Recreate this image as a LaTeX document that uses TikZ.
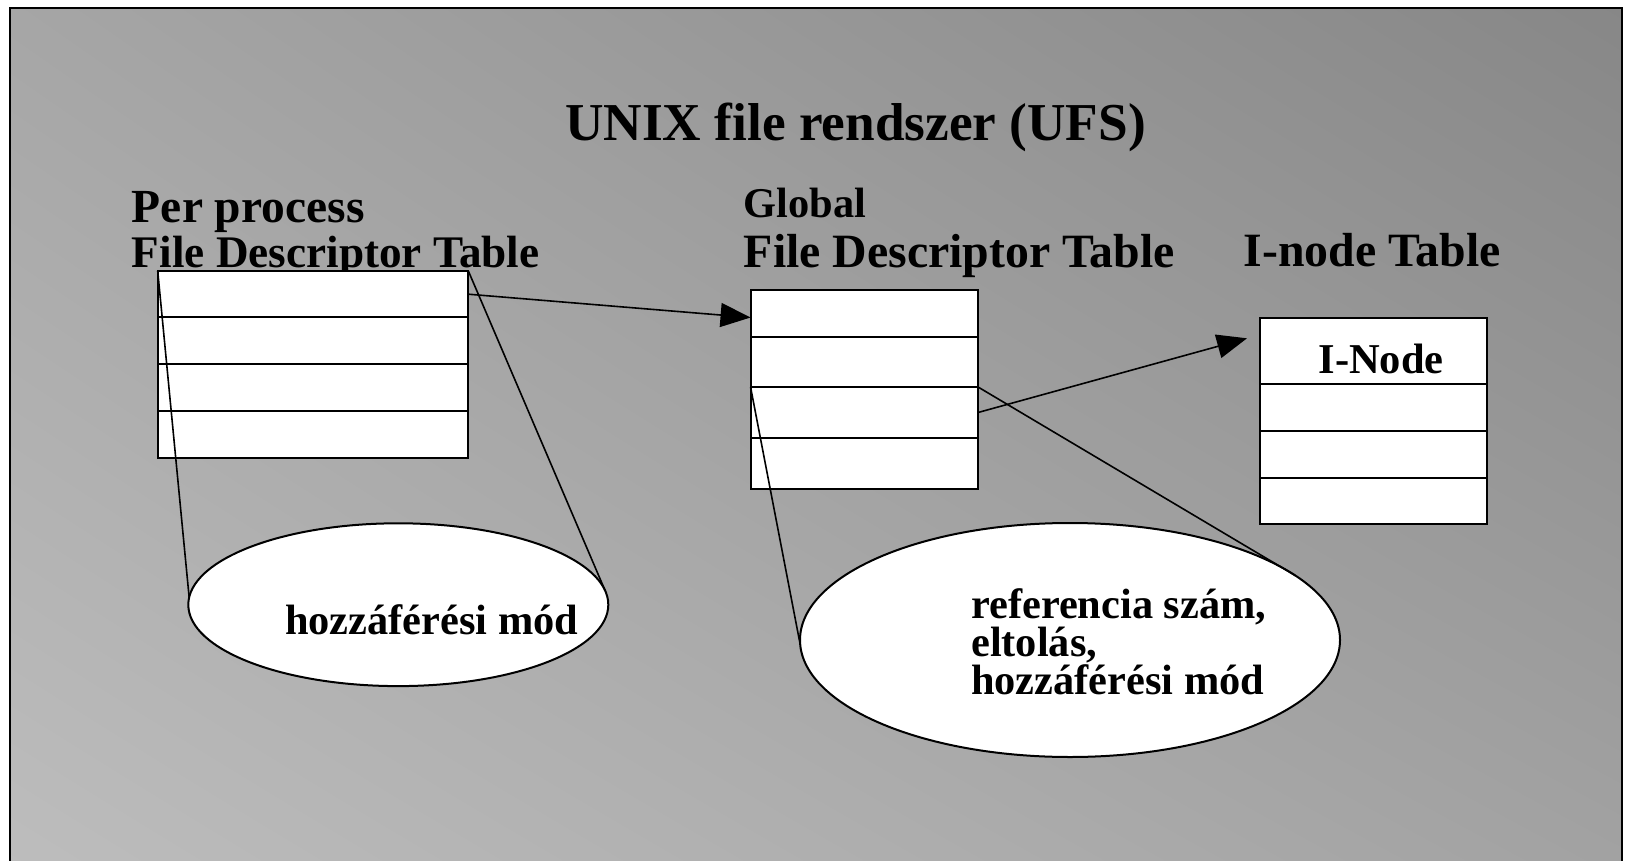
\documentclass[tikz,border=0pt]{standalone}
\usepackage{fontspec}
\setmainfont{Liberation Serif}
\usetikzlibrary{shapes.geometric,arrows.meta,shadings}

\definecolor{bgtl}{gray}{0.65}
\definecolor{bgtr}{gray}{0.53}
\definecolor{bgbl}{gray}{0.74}
\definecolor{bgbr}{gray}{0.635}
\newcommand{\bsz}[1]{\fontsize{#1}{#1}\selectfont\bfseries}

\begin{document}
\begin{tikzpicture}[x=1pt, y=-1pt,
	slot/.style={draw, fill=white, line width=2pt, inner sep=0pt, outer sep=0pt},
	pprow/.style={slot, minimum width=310.6pt},
	glrow/.style={slot, minimum width=227.5pt},
	bubble/.style={ellipse, draw, fill=white, line width=2pt, inner sep=0pt, outer sep=0pt},
	lbl/.style={inner sep=0pt, anchor=base west},
	conn/.style={line width=1.6pt},
	arr/.style={-{Triangle[length=30pt,width=24pt]}}]
	\useasboundingbox (0,0) rectangle (1630,861);
	\shade[upper left=bgtl, upper right=bgtr, lower left=bgbl, lower right=bgbr] (10,8) rectangle (1622,861);
	\draw[line width=2pt] (10,861) -- (10,8) -- (1622,8) -- (1622,861);

	\node[lbl, anchor=base, font=\bsz{53.3}] (title) at (855.6,141) {UNIX file rendszer (UFS)};
	\node[lbl, font=\bsz{47.5}] (pplbla) at (131.7,222.7) {Per process};
	\node[lbl, font=\bsz{45.2}] (pplblb) at (131.7,267.3) {File Descriptor Table};
	\node[lbl, font=\bsz{42.4}] (gllbla) at (743.6,217.3) {Global};
	\node[lbl, font=\bsz{47.8}] (gllblb) at (743.6,267.3) {File Descriptor Table};
	\node[lbl, font=\bsz{47.8}] (inlbl) at (1243.3,266.7) {I-node Table};

	%% per process table
	\node[pprow, minimum height=46.7pt] (pp1) at (313,294.2) {};
	\node[pprow, minimum height=46.7pt] (pp2) at (313,340.7) {};
	\node[pprow, minimum height=46.7pt] (pp3) at (313,387.3) {};
	\node[pprow, minimum height=46.7pt] (pp4) at (313,434.2) {};
	%% global table
	\node[glrow, minimum height=47pt] (gl1) at (864.3,313.5) {};
	\node[glrow, minimum height=50pt] (gl2) at (864.3,362) {};
	\node[glrow, minimum height=51pt] (gl3) at (864.3,412.5) {};
	\node[glrow, minimum height=51pt] (gl4) at (864.3,463.5) {};
	%% i-node table
	\node[glrow, minimum height=66.3pt] (in1) at (1373.7,350.9) {};
	\node[glrow, minimum height=47pt] (in2) at (1373.7,407.5) {};
	\node[glrow, minimum height=46.7pt] (in3) at (1373.7,454.3) {};
	\node[glrow, minimum height=46.3pt] (in4) at (1373.7,500.9) {};
	\node[lbl, font=\bsz{42.5}] (inhead) at (1318.3,373.3) {I-Node};

	\node[bubble, minimum width=420pt, minimum height=162.8pt] (acc1) at (398.3,604.7) {};
	\node[bubble, minimum width=540pt, minimum height=234pt] (acc2) at (1070,640) {};
	\node[lbl, font=\bsz{42.4}] (acctxt) at (285,634) {hozzáférési mód};
	\node[lbl, font=\bsz{42.4}] (reftxta) at (971,618) {referencia szám,};
	\node[lbl, font=\bsz{42.4}] (reftxtb) at (971,656) {eltolás,};
	\node[lbl, font=\bsz{42.4}] (reftxtc) at (971,694) {hozzáférési mód};

	\coordinate (intip) at (1247,338.3);
	\draw[conn, arr] (pp1.east) -- ([yshift=-4pt]gl1.west);
	\draw[conn, arr] (gl3.east) -- (intip);
	\draw[conn] (pp1.north west) -- (acc1.178);
	\draw[conn] (pp1.north east) -- (acc1.4);
	\draw[conn] (gl3.north west) -- (acc2.181);
	\draw[conn] (gl3.north east) -- (acc2.16);
\end{tikzpicture}
\end{document}
